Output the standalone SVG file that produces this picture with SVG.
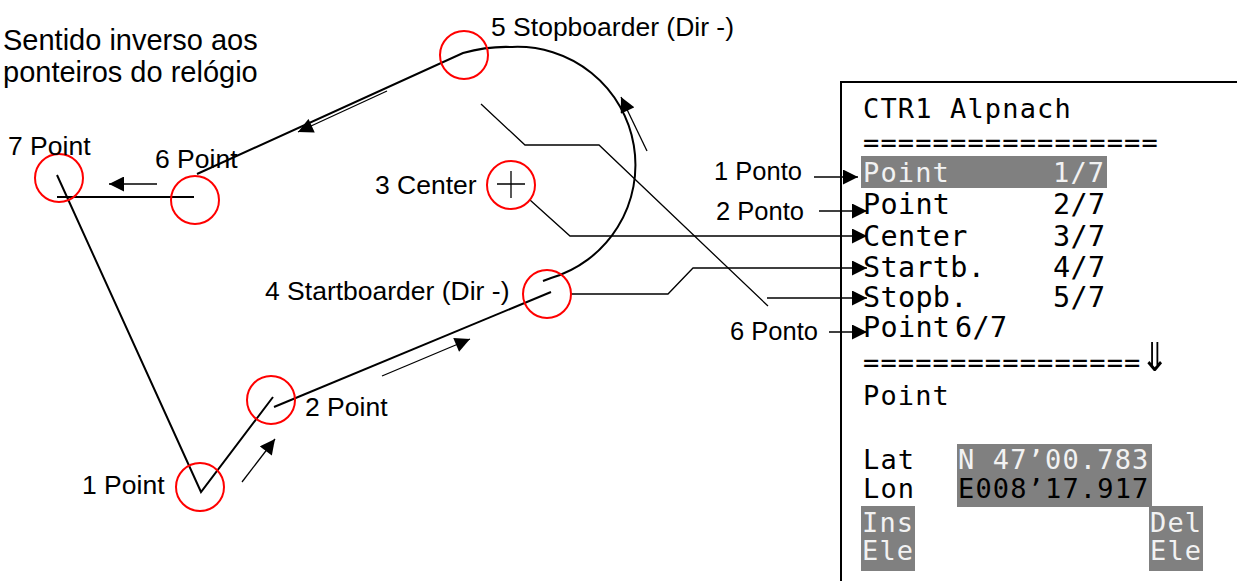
<svg xmlns="http://www.w3.org/2000/svg" width="1237" height="581" viewBox="0 0 1237 581">
  <style>
    .lbl { font-family: "Liberation Sans", Arial, sans-serif; font-size: 26.5px; fill: #000; }
    .cap { font-size: 25.5px; }
    .head { font-family: "Liberation Sans", Arial, sans-serif; font-size: 29px; fill: #000; }
    .mono { font-family: "DejaVu Sans Mono", monospace; font-size: 27px; letter-spacing: 1.15px; fill: #000; }
    .row { font-size: 28.5px; letter-spacing: 0.3px; }
    .inv { fill: #f2f2f2; }
    .hl { fill: #808080; }
    .wp { fill: none; stroke: #ff0000; stroke-width: 2; }
    .track { fill: none; stroke: #000; stroke-width: 2; }
    .lead { fill: none; stroke: #000; stroke-width: 1.3; }
    .ptr { fill: none; stroke: #000; stroke-width: 1.3; marker-end: url(#ah); }
  </style>
  <defs>
    <marker id="ah" viewBox="0 0 10 10" refX="10" refY="5" markerUnits="userSpaceOnUse" markerWidth="16" markerHeight="15" orient="auto">
      <path d="M0,0 L10,5 L0,10 z" fill="#000"/>
    </marker>
  </defs>

  <rect width="1237" height="581" fill="#fff"/>

  <!-- heading -->
  <g id="heading">
    <text class="head" x="3" y="50">Sentido inverso aos</text>
    <text class="head" x="3" y="82">ponteiros do relógio</text>
  </g>

  <!-- flight track, direction arrows and list pointers -->
  <g id="connectors">
    <path class="track" d="M57,175 L201,492 L273,397"/>
    <path class="track" d="M274,407 L551,292"/>
    <path class="track" d="M543,281 L551,278 A118,118 0 0 0 512,47 Q488,46 463,53 L197,174"/>
    <path class="track" d="M57,197 L194,197"/>

    <line class="ptr" x1="242" y1="482" x2="275" y2="439"/>
    <line class="ptr" x1="382" y1="376" x2="470" y2="339"/>
    <line class="ptr" x1="647" y1="151" x2="621" y2="97"/>
    <line class="ptr" x1="387" y1="91" x2="298" y2="132"/>
    <line class="ptr" x1="157" y1="184" x2="109" y2="184"/>

    <path class="ptr" d="M530,200 L570,236 L867,236"/>
    <path class="ptr" d="M571,294 L668,294 L693,268 L867,268"/>
    <path class="lead" d="M481,104 L525,145 L599,145 L768,306"/>
    <path class="ptr" d="M767,298 L867,298"/>
    <line class="ptr" x1="814" y1="177" x2="858" y2="177"/>
    <line class="ptr" x1="819" y1="211" x2="867" y2="211"/>
    <line class="ptr" x1="829" y1="332" x2="867" y2="332"/>
  </g>

  <!-- waypoints -->
  <g id="wp1">
    <circle class="wp" cx="200" cy="487" r="24"/>
    <text class="lbl" x="82" y="494">1 Point</text>
  </g>
  <g id="wp2">
    <circle class="wp" cx="271" cy="400" r="24"/>
    <text class="lbl" x="305" y="416">2 Point</text>
  </g>
  <g id="wp3">
    <circle class="wp" cx="511" cy="185" r="24"/>
    <path d="M497,184 L525,184 M511,171 L511,198" stroke="#000" stroke-width="1.3" fill="none"/>
    <text class="lbl" x="375" y="194">3 Center</text>
  </g>
  <g id="wp4">
    <circle class="wp" cx="547" cy="294" r="24"/>
    <text class="lbl" x="265" y="300">4 Startboarder (Dir -)</text>
  </g>
  <g id="wp5">
    <circle class="wp" cx="464" cy="55" r="24"/>
    <text class="lbl" x="491" y="36">5 Stopboarder (Dir -)</text>
  </g>
  <g id="wp6">
    <circle class="wp" cx="195" cy="200" r="24"/>
    <text class="lbl" x="155" y="168">6 Point</text>
  </g>
  <g id="wp7">
    <circle class="wp" cx="59" cy="178" r="24"/>
    <text class="lbl" x="8" y="155">7 Point</text>
  </g>

  <!-- pointer captions -->
  <g id="captions">
    <text class="lbl cap" x="714" y="180">1 Ponto</text>
    <text class="lbl cap" x="716" y="220">2 Ponto</text>
    <text class="lbl cap" x="730" y="340">6 Ponto</text>
  </g>

  <!-- display screen -->
  <g id="display">
    <path d="M841,581 L841,82 L1237,82" fill="none" stroke="#000" stroke-width="2"/>
    <text class="mono" x="863" y="118">CTR1 Alpnach</text>
    <text class="mono" x="863" y="152">=================</text>

    <rect class="hl" x="861" y="156" width="246" height="32"/>
    <text class="mono inv" x="863" y="182">Point</text>
    <text class="mono inv" x="1053" y="182">1/7</text>

    <text class="mono row" x="863" y="214">Point</text>
    <text class="mono row" x="1053" y="214">2/7</text>
    <text class="mono row" x="863" y="246">Center</text>
    <text class="mono row" x="1053" y="246">3/7</text>
    <text class="mono row" x="863" y="277">Startb.</text>
    <text class="mono row" x="1053" y="277">4/7</text>
    <text class="mono row" x="863" y="307">Stopb.</text>
    <text class="mono row" x="1053" y="307">5/7</text>
    <text class="mono row" x="863" y="337">Point</text>
    <text class="mono row" x="955" y="337">6/7</text>

    <text class="mono" x="863" y="372">================</text>
    <text class="mono" transform="translate(1141,371) scale(1.7,2)" style="letter-spacing:0">⇓</text>
    <text class="mono" x="863" y="405">Point</text>

    <rect class="hl" x="957" y="444" width="195" height="63"/>
    <text class="mono" x="863" y="469">Lat</text>
    <text class="mono inv" x="958" y="469">N 47’00.783</text>
    <text class="mono" x="863" y="498">Lon</text>
    <text class="mono" x="958" y="498">E008’17.917</text>

    <rect class="hl" x="861" y="506" width="54" height="65"/>
    <rect class="hl" x="1149" y="506" width="54" height="65"/>
    <text class="mono inv" x="862" y="532">Ins</text>
    <text class="mono inv" x="862" y="560">Ele</text>
    <text class="mono inv" x="1150" y="532">Del</text>
    <text class="mono inv" x="1150" y="560">Ele</text>
  </g>
</svg>
